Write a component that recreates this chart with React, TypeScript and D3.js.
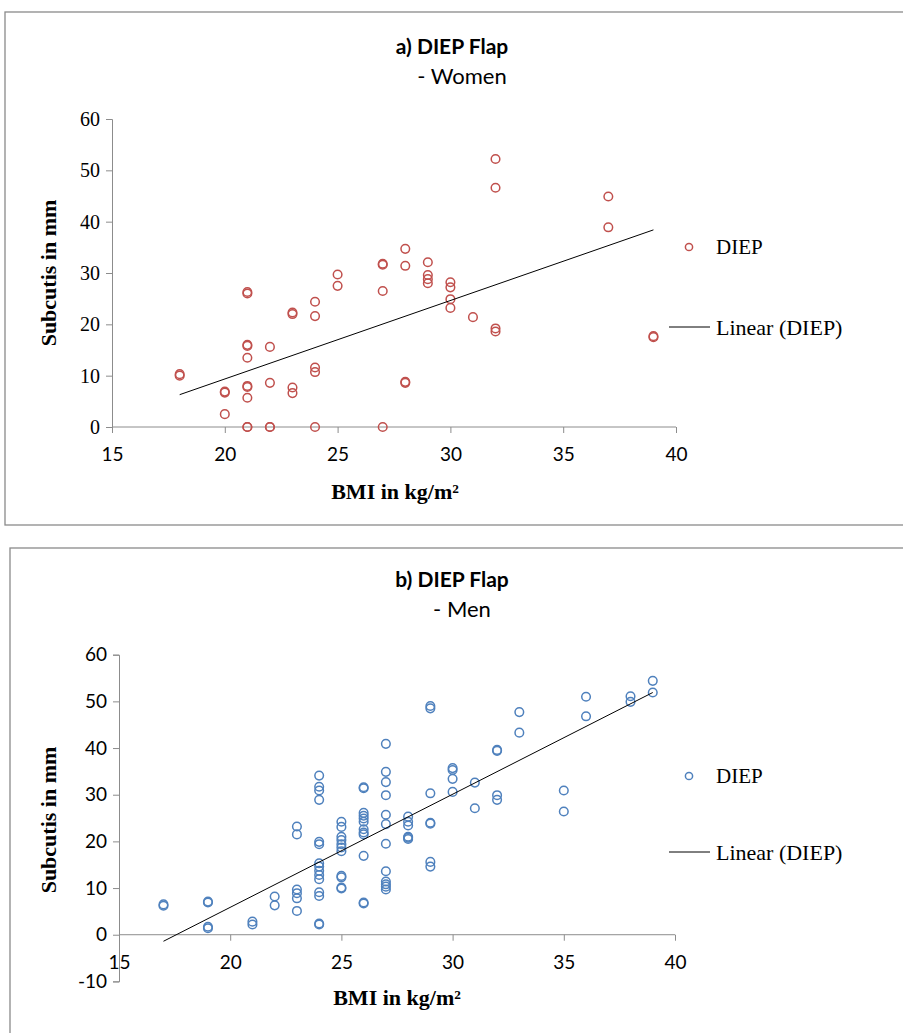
import React, { useEffect, useRef } from "react"
import * as d3 from "d3"

// BMI columns and subcutis values (women)
const womenBmi = [18, 20, 21, 22, 23, 24, 25, 27, 28, 29, 30, 31, 32, 37, 39]
const womenSubcutis = [
  [10.0, 10.3],
  [6.7, 6.9, 2.5],
  [26.0, 26.3, 15.8, 16.0, 13.5, 8.0, 7.8, 5.7, 0, 0],
  [15.6, 8.6, 0, 0],
  [22.0, 22.3, 7.7, 6.6],
  [24.4, 21.6, 11.6, 10.7, 0],
  [29.7, 27.5],
  [31.6, 31.8, 26.5, 0],
  [34.7, 31.4, 8.6, 8.8],
  [32.1, 29.6, 28.8, 28.0],
  [28.2, 27.2, 24.9, 23.2],
  [21.4],
  [52.2, 46.6, 19.2, 18.6],
  [44.9, 38.9],
  [17.5, 17.7],
]
const womenTrend = [[18, 6.3], [39, 38.4]]

// men
const menBmi = [17, 19, 21, 22, 23, 24, 25, 26, 27, 28, 29, 30, 31, 32, 33, 35, 36, 38, 39]
const menSubcutis = [
  [6.2, 6.5],
  [6.9, 7.1, 1.4, 1.7],
  [2.8, 2.2],
  [8.2, 6.3],
  [23.2, 21.5, 9.7, 8.9, 7.8, 5.1],
  [34.1, 31.7, 30.9, 28.9, 19.9, 19.4, 15.3, 14.6, 13.7, 12.8, 11.9, 9.1, 8.3, 2.2, 2.4],
  [24.2, 23.1, 21.0, 20.3, 19.4, 18.7, 17.9, 12.6, 12.3, 9.9, 10.1],
  [31.4, 31.6, 26.1, 25.5, 24.9, 24.2, 22.6, 21.9, 21.5, 16.9, 6.7, 6.9],
  [40.9, 34.9, 32.7, 29.9, 25.7, 23.7, 19.5, 13.6, 11.4, 10.8, 10.3, 9.7],
  [25.3, 24.2, 23.4, 21.0, 20.5, 20.8],
  [49.0, 48.5, 30.3, 23.8, 24.0, 15.6, 14.6],
  [35.7, 35.3, 33.4, 30.6],
  [32.6, 27.1],
  [39.4, 39.6, 29.9, 28.9],
  [47.7, 43.3],
  [30.9, 26.4],
  [51.0, 46.8],
  [51.1, 49.9],
  [54.4, 51.9],
]
const menTrend = [[17, -1.4], [39, 51.9]]

const xTicks = [15, 20, 25, 30, 35, 40]
const yTicksWomen = [0, 10, 20, 30, 40, 50, 60]
const yTicksMen = [-10, 0, 10, 20, 30, 40, 50, 60]

const sans = "Lato, 'Open Sans', sans-serif"
const serif = "'Liberation Serif', 'DejaVu Serif', serif"
const axisCol = "#8c8c8c"

function drawChart(svg, opt) {
  const g = svg.append("g")

  g.append("rect")
    .attr("x", opt.box[0]).attr("y", opt.box[1])
    .attr("width", opt.box[2]).attr("height", opt.box[3])
    .attr("fill", "none").attr("stroke", "#8a8a8a").attr("stroke-width", 1.3)

  const x = d3.scaleLinear().domain([15, 40]).range(opt.xr)
  const y = d3.scaleLinear().domain(opt.yd).range(opt.yr)

  // titles
  g.append("text").attr("x", opt.titleX).attr("y", opt.titleY)
    .attr("text-anchor", "middle").style("font-family", sans)
    .style("font-weight", "bold").style("font-size", "21px").text(opt.title)
  g.append("text").attr("x", opt.titleX + 10).attr("y", opt.titleY + 30)
    .attr("text-anchor", "middle").style("font-family", sans)
    .style("font-size", "22px").text(opt.sub)

  // y axis
  const yAxis = d3.axisLeft(y).tickValues(opt.yTicks).tickSize(6).tickPadding(6)
    .tickFormat(d => String(d))
  const ya = g.append("g").attr("transform", `translate(${x(15)},0)`).call(yAxis)
  ya.select(".domain").attr("stroke", axisCol)
  ya.selectAll("line").attr("stroke", axisCol)
  ya.selectAll("text").style("font-family", opt.yFont).style("font-size", opt.yFs).attr("fill", "#000")

  // x axis at y = 0
  const xAxis = d3.axisBottom(x).tickValues(xTicks).tickSize(6).tickPadding(opt.xPad)
    .tickFormat(d => String(d))
  const xa = g.append("g").attr("transform", `translate(0,${y(0)})`).call(xAxis)
  xa.select(".domain").attr("stroke", axisCol).attr("d", `M${x(15)},0H${x(40)}`)
  xa.selectAll("line").attr("stroke", axisCol)
  xa.selectAll("text").style("font-family", sans).style("font-size", "19px").attr("fill", "#000")

  // axis titles
  g.append("text")
    .attr("transform", `translate(${opt.yTitleX},${opt.yTitleY}) rotate(-90)`)
    .attr("text-anchor", "middle").style("font-family", serif)
    .style("font-weight", "bold").style("font-size", "22px").text("Subcutis in mm")
  g.append("text").attr("x", opt.xTitleX).attr("y", opt.xTitleY)
    .attr("text-anchor", "middle").style("font-family", serif)
    .style("font-weight", "bold").style("font-size", "22px").text("BMI in kg/m²")

  // points
  const pts = []
  opt.bmi.forEach((b, i) => opt.vals[i].forEach(v => pts.push([b, v])))
  g.selectAll("circle.pt").data(pts).enter().append("circle")
    .attr("class", "pt")
    .attr("cx", d => x(d[0])).attr("cy", d => y(d[1])).attr("r", 4.3)
    .attr("fill", "none").attr("stroke", opt.color).attr("stroke-width", 1.5)

  // trendline
  g.append("path").datum(opt.trend)
    .attr("d", d3.line().x(d => x(d[0])).y(d => y(d[1])))
    .attr("stroke", "#000").attr("stroke-width", 1).attr("fill", "none")

  // legend
  g.append("circle").attr("cx", 689).attr("cy", opt.legY)
    .attr("r", 3.6).attr("fill", "none").attr("stroke", opt.color).attr("stroke-width", 1.5)
  g.append("text").attr("x", 716).attr("y", opt.legY).attr("dy", "0.35em")
    .style("font-family", serif).style("font-size", "21px").text("DIEP")
  g.append("line").attr("x1", 669).attr("x2", 710)
    .attr("y1", opt.legY + opt.legGap).attr("y2", opt.legY + opt.legGap)
    .attr("stroke", "#000").attr("stroke-width", 1)
  g.append("text").attr("x", 716).attr("y", opt.legY + opt.legGap).attr("dy", "0.35em")
    .style("font-family", serif).style("font-size", "22px").text("Linear (DIEP)")
}

export default function App() {
  const ref = useRef(null)
  useEffect(() => {
    const svg = d3.select(ref.current)
    svg.selectAll("*").remove()
    drawChart(svg, {
      box: [5, 12, 910, 513], xr: [112, 676], yd: [0, 60], yr: [427, 119],
      yTicks: yTicksWomen, yFont: serif, yFs: "20px", xPad: 15,
      title: "a) DIEP Flap", sub: "- Women", titleX: 452, titleY: 54,
      yTitleX: 56, yTitleY: 273, xTitleX: 395, xTitleY: 499,
      bmi: womenBmi, vals: womenSubcutis, trend: womenTrend, color: "#c0504d",
      legY: 247, legGap: 80,
    })
    drawChart(svg, {
      box: [10, 548, 910, 500], xr: [119, 675], yd: [-10, 60], yr: [981.4, 654.7],
      yTicks: yTicksMen, yFont: sans, yFs: "19px", xPad: 15,
      title: "b) DIEP Flap", sub: "- Men", titleX: 452, titleY: 587,
      yTitleX: 56, yTitleY: 820, xTitleX: 397, xTitleY: 1005,
      bmi: menBmi, vals: menSubcutis, trend: menTrend, color: "#4f81bd",
      legY: 776, legGap: 76,
    })
  }, [])
  return (
    <svg ref={ref} width={903} height={1033}
      style={{ position: "absolute", left: 0, top: 0, background: "#fff" }} />
  )
}
